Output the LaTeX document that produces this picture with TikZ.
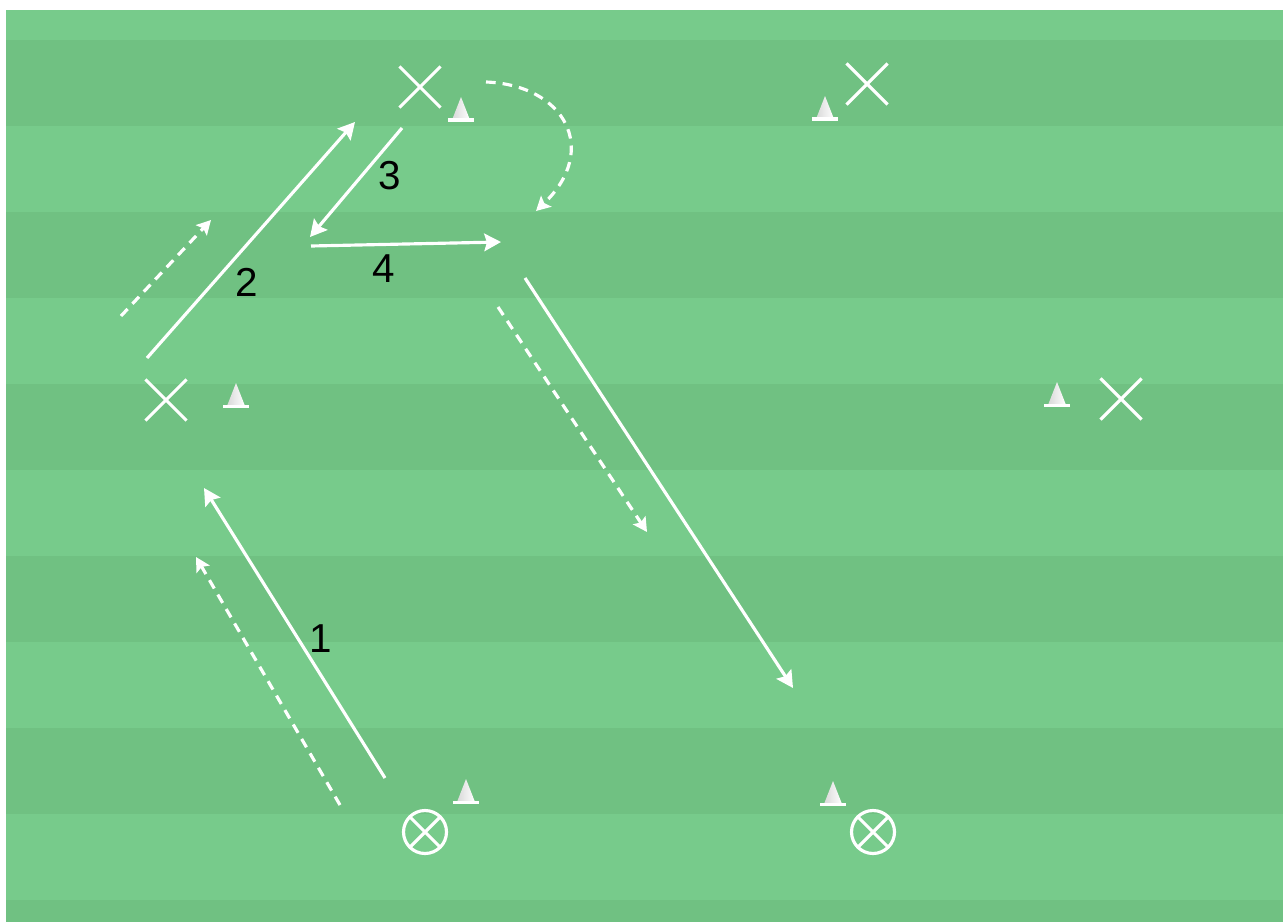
\documentclass[tikz,border=0pt]{standalone}
\usepackage{fontspec}
\setmainfont{Liberation Sans}
\usetikzlibrary{arrows.meta,shapes.misc}
\definecolor{pitchlight}{RGB}{119,203,139}
\definecolor{pitchdark}{RGB}{112,193,130}
\begin{document}
\begin{tikzpicture}[x=0.02cm,y=-0.02cm,
  pass/.style={white,line width=1.8pt,-{Stealth[length=9.5pt,width=10pt,inset=1.5pt]}},
  run/.style={white,line width=1.8pt,dash pattern=on 5.5pt off 4pt,-{Stealth[length=8pt,width=8.5pt,inset=1.5pt]}},
  player/.style={cross out,draw=white,line width=1.8pt,inner sep=0pt,minimum size=0.76cm},
  server/.style={circle,draw=white,line width=1.8pt,inner sep=0pt,minimum size=0.86cm,
    path picture={\draw[white,line width=1.8pt]
      (path picture bounding box.south west) -- (path picture bounding box.north east)
      (path picture bounding box.north west) -- (path picture bounding box.south east);}},
  cone/.pic={\shade[left color=gray!30,right color=white] (-9,-2) -- (0,-25) -- (9,-2) -- cycle;
    \fill[white] (-13,-3.5) rectangle (13,0);},
  num/.style={font=\fontsize{23}{26}\selectfont}]
\useasboundingbox (0,0) rectangle (1283,922);
\fill[pitchlight] (6,10) rectangle (1283,922);
\foreach \k in {0,...,5}{
  \fill[pitchdark] (6,{40+172*\k}) rectangle (1283,{min(126+172*\k,922)});
}
% players
\node[player] (xa) at (420,87) {};
\node[player] (xb) at (867,84) {};
\node[player] (xc) at (166,400) {};
\node[player] (xd) at (1121,399) {};
\node[server] (sa) at (425,832) {};
\node[server] (sb) at (873,832) {};
% cones
\foreach \x/\y in {461/122,825/121,236/408,1057/407,466/804,833/806}
  \pic at (\x,\y) {cone};
% arrow ends
\coordinate (a1) at (385,778); \coordinate (b1) at (204,488);
\coordinate (c1) at (340,805); \coordinate (d1) at (196,557);
\coordinate (a2) at (147,358); \coordinate (b2) at (355,122);
\coordinate (c2) at (121,316); \coordinate (d2) at (211,220);
\coordinate (a3) at (402,128); \coordinate (b3) at (310,237);
\coordinate (a4) at (311,246); \coordinate (b4) at (501,242);
\coordinate (c5) at (486,82);  \coordinate (d5) at (536,211);
\coordinate (c6) at (498,307); \coordinate (d6) at (647,532);
\coordinate (a7) at (525,278); \coordinate (b7) at (793,688);
\draw[pass] (a1) -- (b1);
\draw[run] (c1) -- (d1);
\draw[pass] (a2) -- (b2);
\draw[run] (c2) -- (d2);
\draw[pass] (a3) -- (b3);
\draw[pass] (a4) -- (b4);
\draw[run] (c5) .. controls (565,85) and (600,150) .. (d5);
\draw[run] (c6) -- (d6);
\draw[pass] (a7) -- (b7);
% numbers
\node[num] (n1) at (321,639) {1};
\node[num] (n2) at (247,282) {2};
\node[num] (n3) at (390,176) {3};
\node[num] (n4) at (384,269) {4};
\end{tikzpicture}
\end{document}
